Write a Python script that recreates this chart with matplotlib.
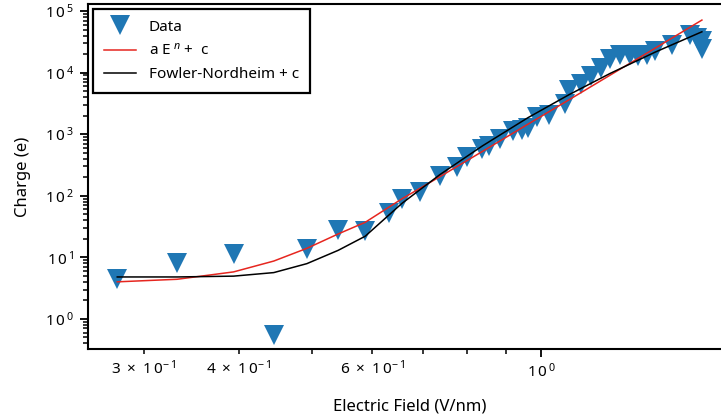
import matplotlib
matplotlib.use('Agg')
import numpy as np
import matplotlib.pyplot as plt
from matplotlib.ticker import FuncFormatter, LogLocator

# Data
field = [0.277, 0.332, 0.394, 0.445, 0.492, 0.541, 0.587, 0.631, 0.656, 0.693,
         0.736, 0.775, 0.799, 0.837, 0.853, 0.883, 0.919, 0.944, 0.961, 0.988,
         1.025, 1.075, 1.089, 1.129, 1.164, 1.199, 1.233, 1.270, 1.309, 1.341,
         1.379, 1.413, 1.486, 1.570, 1.604, 1.628, 1.628]
charge = [4.43, 8.17, 11.5, 0.555, 13.6, 27.4, 26.6, 53, 88, 113,
          209, 288, 430, 580, 650, 840, 1110, 1175, 1245, 1910,
          2020, 3140, 5170, 6470, 8810, 12000, 16800, 19200, 19200, 18900,
          19200, 22700, 27900, 40200, 37000, 24200, 32500]

# fitted curves
fit_field = [0.277, 0.332, 0.394, 0.445, 0.492, 0.541, 0.587, 0.656, 0.736,
             0.837, 0.961, 1.089, 1.233, 1.413, 1.628]
power_fit = [4.0, 4.4, 5.8, 8.7, 14.0, 24, 37, 89, 204,
             523, 1450, 3630, 9100, 24900, 71300]
fn_fit = [4.8, 4.8, 4.95, 5.65, 7.9, 13, 22, 75, 220,
          643, 1850, 4390, 9700, 21500, 46000]

x_minor_labelled = [3, 4, 6]

plt.rcParams['font.family'] = ['Noto Sans', 'DejaVu Sans']
plt.rcParams['mathtext.fontset'] = 'custom'
plt.rcParams['mathtext.rm'] = 'Noto Sans'
plt.rcParams['mathtext.it'] = 'Noto Sans:italic'
plt.rcParams['font.size'] = 11


def log_label(v, pos):
    e = int(np.floor(np.log10(v) + 1e-9))
    m = int(round(v / 10.0 ** e))
    if m == 1:
        return r'$1\,0^{\,%d}$' % e if e >= 0 else r'$1\,0^{-\,%d}$' % -e
    if m in x_minor_labelled:
        return r'$%d\ \times\ 1\,0^{-\,%d}$' % (m, -e) if e < 0 else r'$%d\ \times\ 1\,0^{\,%d}$' % (m, e)
    return ''


fig = plt.figure(figsize=(7.21, 4.19), dpi=100)
ax = fig.add_axes([88 / 721, 70 / 419, 643 / 721, 345 / 419])

ax.plot(field, charge, 'v', color='#1f77b4', markersize=14, markeredgewidth=0, label='Data')
ax.plot(fit_field, power_fit, color='#e6261f', linewidth=1.1, label=r'a E$^{\ n}$ +  c')
ax.plot(fit_field, fn_fit, color='black', linewidth=1.1, label='Fowler-Nordheim + c')

ax.set_xscale('log')
ax.set_yscale('log')
ax.set_xlim(0.2535, 1.778)
ax.set_ylim(0.3246, 1.30e5)

ax.xaxis.set_major_formatter(FuncFormatter(log_label))
ax.xaxis.set_minor_formatter(FuncFormatter(log_label))
ax.yaxis.set_major_formatter(FuncFormatter(log_label))
ax.yaxis.set_minor_locator(LogLocator(base=10, subs=np.arange(2, 10), numticks=20))
ax.yaxis.set_minor_formatter(FuncFormatter(lambda v, p: ''))

ax.set_xlabel('Electric Field (V/nm)', fontsize=12, labelpad=12)
ax.set_ylabel('Charge (e)', fontsize=12, labelpad=10)

for side in ['bottom', 'top', 'left', 'right']:
    ax.spines[side].set_linewidth(1.5)
ax.tick_params(which='major', length=6, width=1.3, labelsize=11, pad=4)
ax.tick_params(which='minor', length=3.5, width=1.1, labelsize=11, pad=4)

leg = ax.legend(loc='upper left', fancybox=False, edgecolor='black', framealpha=1,
                borderpad=0.72, labelspacing=0.55, handlelength=2.1, handletextpad=0.85,
                borderaxespad=0.3, fontsize=11)
leg.get_frame().set_linewidth(1.6)

fig.savefig('out.png', dpi=100)
